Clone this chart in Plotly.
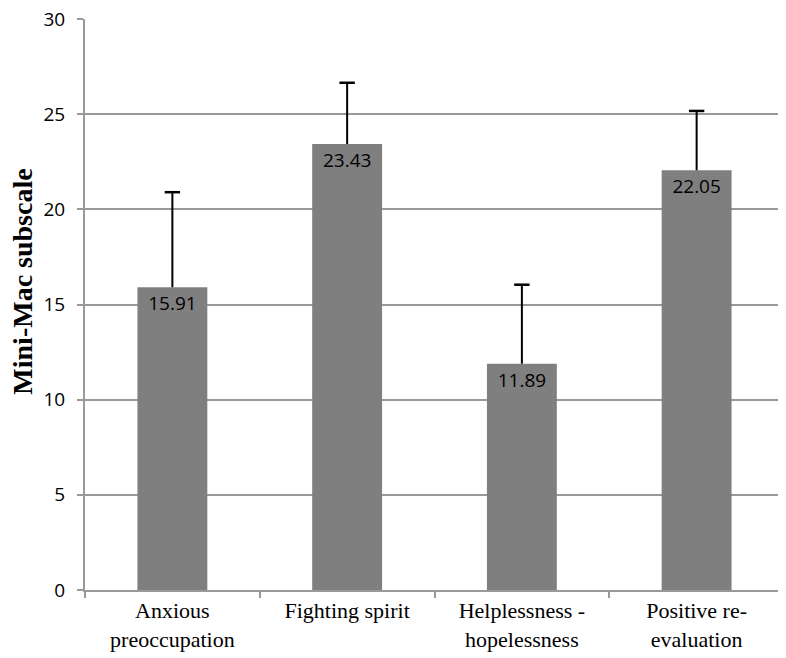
import plotly.graph_objects as go

categories = ["Anxious<br>preoccupation", "Fighting spirit", "Helplessness -<br>hopelessness", "Positive re-<br>evaluation"]
means = [15.91, 23.43, 11.89, 22.05]
errors = [4.99, 3.22, 4.15, 3.12]
labels = ["15.91", "23.43", "11.89", "22.05"]
y_ticks = [0, 5, 10, 15, 20, 25, 30]
y_title = "Mini-Mac subscale"

fig = go.Figure()
fig.add_trace(go.Bar(
    x=categories, y=means,
    marker=dict(color="#7f7f7f", line=dict(width=0)),
    text=labels, textposition="inside", insidetextanchor="end",
    textfont=dict(family="Open Sans, Liberation Sans, sans-serif", size=19, color="black"),
    textangle=0,
))

# upward-only error bars: stem + cap
ex, ey = [], []
for c, m, e in zip(categories, means, errors):
    ex += [c, c, None]
    ey += [m, m + e, None]
fig.add_trace(go.Scatter(
    x=ex, y=ey, mode="lines", line=dict(color="black", width=2),
    hoverinfo="skip", connectgaps=False,
))
fig.add_trace(go.Scatter(
    x=categories, y=[m + e for m, e in zip(means, errors)], mode="markers",
    marker=dict(symbol="line-ew", size=11, line=dict(color="black", width=2.5)),
    hoverinfo="skip",
))

fig.update_layout(
    width=778, height=650,
    margin=dict(l=77, r=2, t=11, b=68),
    paper_bgcolor="white", plot_bgcolor="white",
    bargap=0.6,
    showlegend=False,
    uniformtext=dict(minsize=8, mode="show"),
    annotations=[dict(
        text="<b>" + y_title + "</b>", xref="paper", yref="paper", x=0, y=0.54,
        xanchor="center", yanchor="middle", xshift=-62, textangle=-90, showarrow=False,
        font=dict(family="Liberation Serif, Times New Roman, serif", size=28, color="black"),
    )],
)
fig.update_xaxes(
    tickson="boundaries", ticks="outside", ticklen=6, tickcolor="#999999", tickwidth=2,
    showline=True, linecolor="#999999", linewidth=2,
    tickfont=dict(family="Liberation Serif, Times New Roman, serif", size=22, color="black"),
    showgrid=False, automargin=False, ticklabeloverflow="allow",
)
fig.update_yaxes(
    range=[0, 30], tickvals=y_ticks, ticks="outside", ticklen=6, tickcolor="#999999", tickwidth=2,
    showline=True, linecolor="#999999", linewidth=2,
    showgrid=True, gridcolor="#999999", gridwidth=2,
    zeroline=False, automargin=False, ticklabelstandoff=8, ticklabeloverflow="allow",
    tickfont=dict(family="Open Sans, Liberation Sans, sans-serif", size=19, color="black"),
)

fig.write_html("out.html")
